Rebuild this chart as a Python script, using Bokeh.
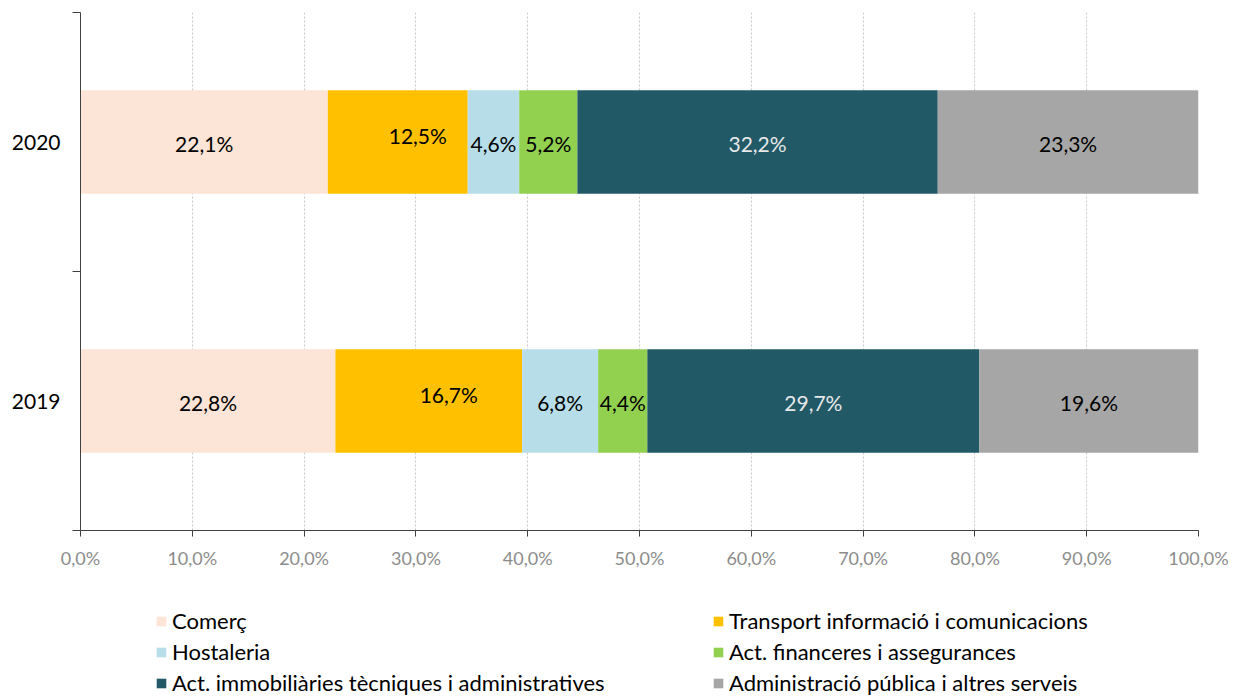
from bokeh.plotting import figure
from bokeh.models import (ColumnDataSource, FixedTicker, Legend, LegendItem,
                          Range1d)
from bokeh.layouts import column
from bokeh.core.properties import value
from bokeh.embed import file_html
from bokeh.resources import INLINE

years = ["2019", "2020"]
sectors = ["Comerç", "Transport informació i comunicacions", "Hostaleria",
           "Act. financeres i assegurances",
           "Act. immobiliàries tècniques i administratives",
           "Administració pública i altres serveis"]
colors = ["#FCE4D6", "#FFC000", "#B7DEE8", "#92D050", "#215967", "#A6A6A6"]
label_colors = ["#000000", "#000000", "#000000", "#000000", "#E8E8E8", "#000000"]
vals_2019 = [22.8, 16.7, 6.8, 4.4, 29.7, 19.6]
vals_2020 = [22.1, 12.5, 4.6, 5.2, 32.2, 23.3]
xticks = [0, 10, 20, 30, 40, 50, 60, 70, 80, 90, 100]
xtick_labels = ["0,0%", "10,0%", "20,0%", "30,0%", "40,0%", "50,0%",
                "60,0%", "70,0%", "80,0%", "90,0%", "100,0%"]

FONT = "Lato"

p = figure(width=1239, height=580, output_backend="svg",
           toolbar_location=None, x_range=Range1d(0, 100), y_range=Range1d(0, 2),
           min_border_left=80, min_border_right=41, min_border_top=12,
           min_border_bottom=50)
p.outline_line_color = None
p.background_fill_color = "white"

series = {"2019": vals_2019, "2020": vals_2020}
ypos = {"2019": 0.5, "2020": 1.5}
bar_h = 0.4

for yr in years:
    vals = series[yr]
    total = sum(vals)
    left = 0.0
    for i, v in enumerate(vals):
        w = v / total * 100
        src = ColumnDataSource(dict(y=[ypos[yr]], left=[left], right=[left + w]))
        p.hbar(y="y", left="left", right="right", height=bar_h, source=src,
               fill_color=colors[i], line_color=None)
        xoff = 20 if i == 1 else 0
        yoff = -7 if i == 1 else 1
        lsrc = ColumnDataSource(dict(x=[left + w / 2], y=[ypos[yr]],
                                     t=[f"{v:.1f}".replace(".", ",") + "%"]))
        p.text(x="x", y="y", text="t", source=lsrc, text_align="center",
               text_baseline="middle", text_font=value(FONT),
               text_font_size="21px", text_color=label_colors[i],
               x_offset=xoff, y_offset=yoff)
        left += w

p.ygrid.grid_line_color = None
p.xgrid.ticker = FixedTicker(ticks=xticks[1:])
p.xgrid.grid_line_color = "#C8C8C8"
p.xgrid.grid_line_dash = "2 2"
p.xgrid.grid_line_width = 1

p.xaxis.ticker = FixedTicker(ticks=xticks)
p.xaxis.major_label_overrides = {t: l for t, l in zip(xticks, xtick_labels)}
p.xaxis.major_label_text_font = FONT
p.xaxis.major_label_text_font_size = "18px"
p.xaxis.major_label_text_color = "#8C8C8C"
p.xaxis.axis_line_color = "#404040"
p.xaxis.major_tick_line_color = "#404040"
p.xaxis.major_tick_out = 6
p.xaxis.major_tick_in = 0
p.xaxis.minor_tick_line_color = None
p.xaxis.major_label_standoff = 10

p.yaxis.ticker = FixedTicker(ticks=[0.5, 1.5], minor_ticks=[0, 1, 2])
p.yaxis.major_label_overrides = {0.5: "2019", 1.5: "2020"}
p.yaxis.major_label_text_font = FONT
p.yaxis.major_label_text_font_size = "21px"
p.yaxis.major_label_text_color = "#000000"
p.yaxis.major_tick_out = 0
p.yaxis.major_tick_in = 0
p.yaxis.minor_tick_out = 8
p.yaxis.minor_tick_in = 0
p.yaxis.minor_tick_line_color = "#404040"
p.yaxis.axis_line_color = "#404040"
p.yaxis.major_label_standoff = 12

# legend panel
p2 = figure(width=1239, height=119, output_backend="svg", toolbar_location=None,
            x_range=Range1d(0, 1), y_range=Range1d(0, 1),
            min_border_left=0, min_border_right=0, min_border_top=0,
            min_border_bottom=0)
p2.axis.visible = False
p2.grid.visible = False
p2.outline_line_color = None

nan = float("nan")
items = []
for i, s in enumerate(sectors):
    r = p2.hbar(y=[nan], left=[nan], right=[nan], height=0.1,
                fill_color=colors[i], line_color=None)
    items.append(LegendItem(label=s, renderers=[r]))

legend = Legend(items=items, orientation="horizontal", ncols=2,
                location=(75, 3), label_text_font=FONT,
                label_text_font_size="22px", label_text_color="#000000",
                glyph_width=12, glyph_height=12, label_width=536,
                label_height=20, spacing=4, label_standoff=5,
                border_line_color=None, background_fill_alpha=0,
                margin=0, padding=0)
p2.add_layout(legend, "center")

layout = column(p, p2, spacing=0)

with open("out.html", "w") as f:
    f.write(file_html(layout, INLINE))
